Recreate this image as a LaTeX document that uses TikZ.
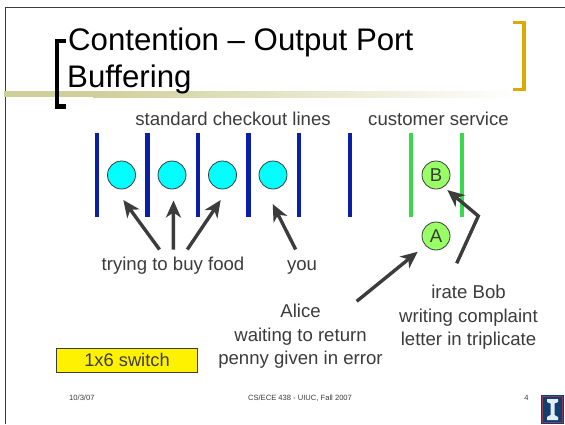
\documentclass[tikz,border=0pt]{standalone}
\usepackage{fontspec}
\setmainfont{Liberation Sans}
\usetikzlibrary{arrows.meta}
\definecolor{txtgrey}{HTML}{3C3C3C}
\definecolor{barblue}{HTML}{0A1EA8}
\definecolor{bargreen}{HTML}{3AD84E}
\definecolor{cyanfill}{HTML}{00FFFF}
\definecolor{limefill}{HTML}{99FF66}
\definecolor{oliveband}{HTML}{CFCF9A}
\definecolor{goldbr}{HTML}{DDAA00}
\definecolor{logonavy}{HTML}{123E70}
\definecolor{logored}{HTML}{8A3A5A}
\definecolor{logowhite}{HTML}{E4EEF2}
\tikzset{
  label text/.style={text=txtgrey,font=\fontsize{18.6}{23.5}\selectfont,inner sep=0pt,align=center},
  foot text/.style={text=txtgrey,font=\fontsize{7.6}{9}\selectfont,inner sep=0pt},
  bluebar/.style={fill=barblue,draw=none},
  greenbar/.style={fill=bargreen,draw=none},
  person/.style={circle,draw=txtgrey,line width=0.8pt,minimum size=28pt,inner sep=0pt,text=txtgrey,font=\fontsize{18.6}{22}\selectfont},
  pointer/.style={draw=txtgrey,line width=3.4pt,line join=miter,-{Stealth[length=17pt,width=15pt,inset=5pt]}},
}
\begin{document}
\begin{tikzpicture}[x=1pt,y=-1pt]
\useasboundingbox (0,0) rectangle (565,424);
\fill[white] (0,0) rectangle (565,424);
% slide frame
\draw[line width=1pt,color=txtgrey] (5.5,424) -- (5.5,7) -- (565,7);
% title band
\fill[oliveband] (4,91) rectangle (93,97);
\shade[left color=oliveband,right color=white,draw=none] (93,91) rectangle (520,97);
% brackets
\draw[black,line width=4.2pt] (66,41) -- (57,41) -- (57,106.5) -- (66,106.5);
\draw[goldbr,line width=3.6pt] (513,22.5) -- (524,22.5) -- (524,89.5) -- (513,89.5);
% title
\node[anchor=base west,inner sep=0pt,font=\fontsize{31.2}{34}\selectfont,text=black] (title1) at (68,50.5) {Contention – Output Port};
\node[anchor=base west,inner sep=0pt,font=\fontsize{31.2}{34}\selectfont,text=black] (title2) at (67,87) {Buffering};
% headers
\node[label text,anchor=base] (hdrA) at (233,125) {standard checkout lines};
\node[label text,anchor=base] (hdrB) at (438.5,125) {customer service};
% bars
\foreach \x in {97,147.5,198,248.5,299,350}
  \fill[bluebar] (\x-2.2,133) rectangle (\x+2.2,217);
\foreach \x in {411,462}
  \fill[greenbar] (\x-2.2,133) rectangle (\x+2.2,217);
% people
\node[person,fill=cyanfill] (c1) at (121.5,175) {};
\node[person,fill=cyanfill] (c2) at (172,175) {};
\node[person,fill=cyanfill] (c3) at (222.5,175) {};
\node[person,fill=cyanfill] (c4) at (273,175) {};
\node[person,fill=limefill] (b) at (436,175) {B};
\node[person,fill=limefill] (a) at (436,236) {A};
% labels
\node[label text,anchor=base] (try) at (173,270) {trying to buy food};
\node[label text,anchor=base] (you) at (302,270) {you};
\node[label text,anchor=north] (alice) at (300.5,304) {Alice\\waiting to return\\penny given in error};
\node[label text,anchor=north] (bob) at (468.5,285) {irate Bob\\writing complaint\\letter in triplicate};
\node[draw=txtgrey,line width=0.8pt,fill=yellow,minimum width=141pt,minimum height=23.5pt,inner sep=0pt,text=txtgrey,font=\fontsize{18.3}{20}\selectfont] (sw) at (127,360.3) {1x6 switch};
% footer
\node[foot text,anchor=base west] (date) at (69,400.5) {10/3/07};
\node[foot text,anchor=base] (course) at (300,400.5) {CS/ECE 438 - UIUC, Fall 2007};
\node[foot text,anchor=base] (page) at (526.5,400.5) {4};
% connector ends
\coordinate (t1) at (159.5,249.5); \coordinate (h1) at (123.3,200);
\coordinate (t2) at (173.3,249.5); \coordinate (h2) at (173.5,200.5);
\coordinate (t3) at (187.3,249.5); \coordinate (h3) at (220.7,200);
\coordinate (t4) at (295.7,249.5); \coordinate (h4) at (272.7,204);
\coordinate (t5) at (356.7,301.3); \coordinate (h5) at (417.7,251.7);
\coordinate (t6) at (456.7,263.3); \coordinate (e6) at (478.3,216); \coordinate (h6) at (447.3,190);
\draw[pointer] (t1) -- (h1);
\draw[pointer] (t2) -- (h2);
\draw[pointer] (t3) -- (h3);
\draw[pointer] (t4) -- (h4);
\draw[pointer] (t5) -- (h5);
\draw[pointer] (t6) -- (e6) -- (h6);
% logo
\fill[logonavy] (541,395) rectangle (564,424);
\draw[logored,line width=0.7pt] (542.5,396.5) rectangle (562.5,422.5);
\fill[logowhite] (547,399) -- (558,399) -- (558,402) -- (554.5,403.5) -- (554.5,415) -- (558,417) -- (558,420) -- (547,420) -- (547,417) -- (550.5,415) -- (550.5,403.5) -- (547,402) -- cycle;
\end{tikzpicture}
\end{document}
